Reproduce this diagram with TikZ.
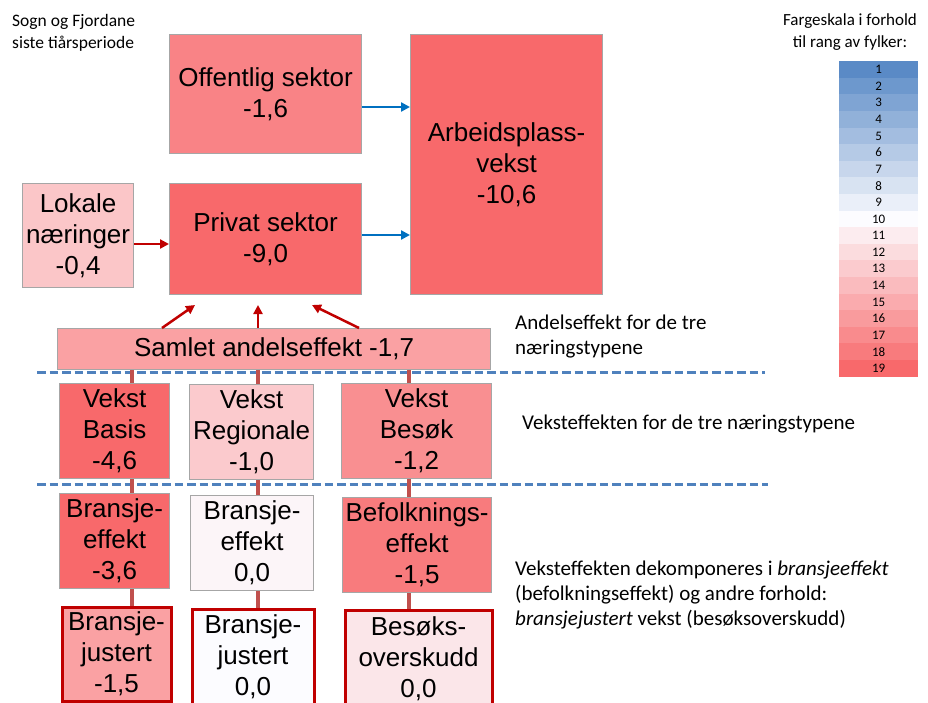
\documentclass[tikz,border=0pt]{standalone}
\usepackage{fontspec}
\setmainfont{Liberation Sans}
\newfontfamily\calfont{Carlito}
\usetikzlibrary{arrows.meta,backgrounds}
\definecolor{redend}{HTML}{F8696B}
\definecolor{midw}{HTML}{FCFCFF}
\definecolor{blueend}{HTML}{5A8AC6}
\definecolor{boxline}{HTML}{A6A6A6}
\definecolor{darkred}{HTML}{C00000}
\definecolor{arrblue}{HTML}{0070C0}
\definecolor{vline}{HTML}{C0504D}
\definecolor{dashblue}{HTML}{4F81BD}
\begin{document}
\begin{tikzpicture}[x=1pt,y=-1pt,
 box/.style={draw=boxline, line width=1.2pt, inner sep=0pt, align=center,
   font=\fontsize{26}{31}\selectfont, anchor=north west},
 bbox/.style={box, draw=darkred, line width=3pt},
 note/.style={font=\calfont\fontsize{21}{25}\selectfont, inner sep=0pt, align=left, anchor=base west},
 smallnote/.style={note, font=\calfont\fontsize{17.5}{22}\selectfont},
 redarrow/.style={draw=darkred, line width=2.5pt, -{Triangle[length=9pt,width=9pt]}},
 bluearrow/.style={draw=arrblue, line width=2.5pt, -{Triangle[length=9pt,width=9pt]}},
 divider/.style={draw=dashblue, line width=3pt, dash pattern=on 8.5pt off 4pt},
 link/.style={draw=vline, line width=4pt},
 scalecell/.style={inner sep=0pt, anchor=north west, minimum width=79pt, minimum height=16.6pt,
   font=\calfont\fontsize{13}{13}\selectfont},
]
\useasboundingbox (0,0) rectangle (928,702);

% top boxes
\node[box, fill=redend!82!midw, minimum width=192pt, minimum height=119pt] (off) at (169,34) {Offentlig sektor\\-1,6};
\node[box, fill=redend, minimum width=192pt, minimum height=260pt] (arb) at (410,34) {Arbeidsplass-\\vekst\\-10,6};
\node[box, fill=redend!37!midw, minimum width=111pt, minimum height=104pt] (lok) at (22,183) {Lokale\\næringer\\-0,4};
\node[box, fill=redend, minimum width=192pt, minimum height=111pt] (priv) at (169,183) {Privat sektor\\-9,0};
\node[box, fill=redend!62!midw, minimum width=433pt, minimum height=41pt] (sam) at (57,328) {Samlet andelseffekt -1,7};

% row 2
\node[box, fill=redend, minimum width=110pt, minimum height=95pt] (vb) at (59,383) {Vekst\\Basis\\-4,6};
\node[box, fill=redend!34!midw, minimum width=124pt, minimum height=95pt] (vr) at (189,384) {Vekst\\Regionale\\-1,0};
\node[box, fill=redend!74!midw, minimum width=150pt, minimum height=95pt] (vbs) at (341,383) {Vekst\\Besøk\\-1,2};

% row 3
\node[box, fill=redend, minimum width=110pt, minimum height=95pt] (be1) at (59,493) {Bransje-\\effekt\\-3,6};
\node[box, fill=redend!5!midw, minimum width=123pt, minimum height=95pt] (be2) at (190,495) {Bransje-\\effekt\\0,0};
\node[box, fill=redend!88!midw, minimum width=149pt, minimum height=95pt] (be3) at (342,497) {Befolknings-\\effekt\\-1,5};

% row 4
\node[bbox, fill=redend!62!midw, minimum width=109pt, minimum height=94pt] (bj1) at (60.5,605.5) {Bransje-\\justert\\-1,5};
\node[bbox, fill=midw, minimum width=122pt, minimum height=96pt] (bj2) at (190.5,607.5) {Bransje-\\justert\\0,0};
\node[bbox, fill=redend!15!midw, minimum width=147pt, minimum height=97pt] (bj3) at (343.5,608.5) {Besøks-\\overskudd\\0,0};

% annotations (anchor = baseline of last line)
\node[smallnote] (t1) at (12,48) {Sogn og Fjordane\\siste tiårsperiode};
\node[smallnote, font=\calfont\fontsize{17}{22}\selectfont, align=center, anchor=base] (t2) at (850,47) {Fargeskala i forhold\\til rang av fylker:};
\node[note] (t3) at (515,354) {Andelseffekt for de tre\\næringstypene};
\node[note] (t4) at (522,429) {Veksteffekten for de tre næringstypene};
\node[note] (t5) at (515,625) {Veksteffekten dekomponeres i \textit{bransjeeffekt}\\(befolkningseffekt) og andre forhold:\\\textit{bransjejustert} vekst (besøksoverskudd)};

% colour scale
\foreach \i in {1,...,19}{
  \ifnum\i<10
    \pgfmathtruncatemacro\p{(10-\i)*100/9}\colorlet{cc}{blueend!\p!midw}
  \else
    \pgfmathtruncatemacro\p{(\i-10)*100/9}\colorlet{cc}{redend!\p!midw}
  \fi
  \node[scalecell, fill=cc] (sc\i) at (839,{61+(\i-1)*16.6}) {\i};
}

% arrows
\coordinate (la) at (150,244);
\draw[redarrow] (lok.east |- la) -- (priv.west |- la);
\coordinate (ba1) at (385,107);
\draw[bluearrow] (off.east |- ba1) -- (arb.west |- ba1);
\coordinate (ba2) at (385,235);
\draw[bluearrow] (priv.east |- ba2) -- (arb.west |- ba2);
\coordinate (r1s) at (162,0); \coordinate (r1e) at (195,305);
\coordinate (r2s) at (258,0); \coordinate (r2e) at (258,305);
\coordinate (r3s) at (359,0); \coordinate (r3e) at (312,305);
\draw[redarrow] (sam.north -| r1s) -- (r1e);
\draw[redarrow] (sam.north -| r2s) -- (r2e);
\draw[redarrow] (sam.north -| r3s) -- (r3e);

% background: dividers and links
\coordinate (d1a) at (37,372); \coordinate (d1b) at (765,372);
\coordinate (d2a) at (37,484); \coordinate (d2b) at (768,484);
\coordinate (v1) at (132,0); \coordinate (v2) at (258,0); \coordinate (v3) at (409,0);
\begin{scope}[on background layer]
  \fill[white] (0,0) rectangle (928,702);
  \draw[divider] (d1a) -- (d1b);
  \draw[divider] (d2a) -- (d2b);
  \draw[link] (sam.south -| v1) -- (bj1.north -| v1);
  \draw[link] (sam.south -| v2) -- (bj2.north -| v2);
  \draw[link] (sam.south -| v3) -- (bj3.north -| v3);
\end{scope}
\end{tikzpicture}
\end{document}
